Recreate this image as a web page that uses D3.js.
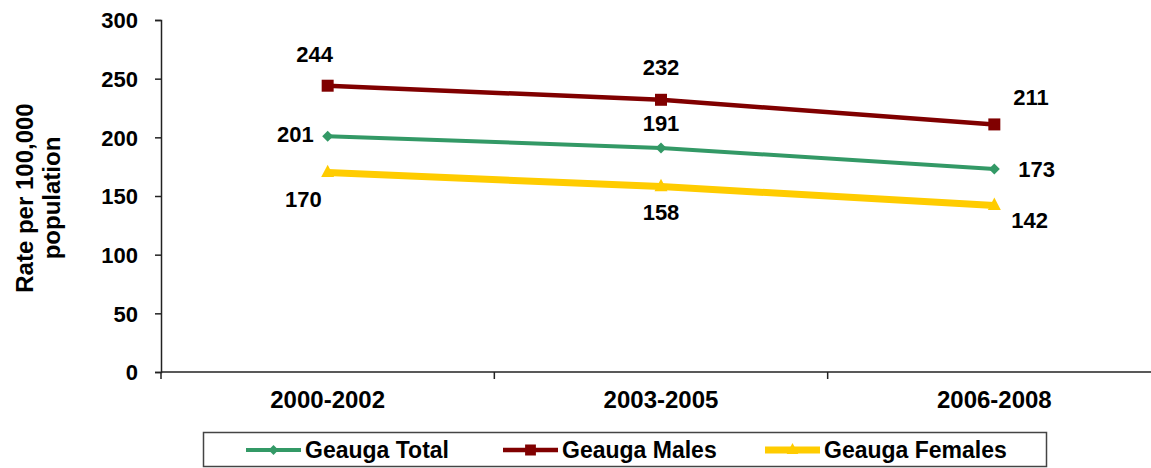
<!DOCTYPE html>
<html>
<head>
<meta charset="utf-8">
<script src="https://cdn.jsdelivr.net/npm/d3@7"></script>
<style>
  body { margin: 0; background: #fff; }
  svg text { font-family: "Liberation Sans", Arial, sans-serif; font-weight: bold; fill: #000; }
</style>
</head>
<body>
<svg id="chart" width="1151" height="468"></svg>
<script>
// data
var periods = ["2000-2002", "2003-2005", "2006-2008"];
var totalRates = [201, 191, 173];
var maleRates = [244, 232, 211];
var femaleRates = [170, 158, 142];
var yTicks = [0, 50, 100, 150, 200, 250, 300];

var series = [
  {name: "Geauga Total", values: totalRates, color: "#339966", width: 4, marker: "diamond"},
  {name: "Geauga Males", values: maleRates, color: "#800000", width: 4.5, marker: "square"},
  {name: "Geauga Females", values: femaleRates, color: "#ffcc00", width: 7, marker: "triangle"}
];

// where each value label sits relative to its point (dx, dy to baseline, anchor)
var labelPlace = {
  "Geauga Total":   [[-14, 6, "end"], [0, -17, "middle"], [24, 8, "start"]],
  "Geauga Males":   [[-13, -24, "middle"], [0, -25, "middle"], [19, -19, "start"]],
  "Geauga Females": [[-6, 34, "end"], [0, 33, "middle"], [17, 23, "start"]]
};

var svg = d3.select("#chart");
var plotLeft = 161, plotRight = 1161, plotTop = 20, plotBottom = 372;

var x = d3.scalePoint().domain(periods).range([plotLeft, plotRight]).padding(0.5);
var y = d3.scaleLinear().domain([0, 300]).range([plotBottom, plotTop]);
var step = x.step();

// y axis
var yAxis = svg.append("g").attr("transform", "translate(" + plotLeft + ",0)")
  .call(d3.axisLeft(y).tickValues(yTicks).tickSize(6).tickPadding(17));
yAxis.select(".domain").attr("stroke", "#222").attr("stroke-width", 1.5);
yAxis.selectAll(".tick line").attr("stroke", "#222").attr("stroke-width", 1.5);
yAxis.selectAll(".tick text").attr("font-size", 22).attr("dy", "0.36em");

// x axis
var xAxis = svg.append("g").attr("transform", "translate(0," + plotBottom + ")");
xAxis.append("line").attr("x1", plotLeft).attr("x2", plotRight)
  .attr("stroke", "#222").attr("stroke-width", 1.5);
d3.range(periods.length + 1).forEach(function(i) {
  var xx = plotLeft + i * step;
  xAxis.append("line").attr("x1", xx).attr("x2", xx).attr("y1", 0).attr("y2", 7)
    .attr("stroke", "#222").attr("stroke-width", 1.5);
});
xAxis.selectAll(".cat").data(periods).enter().append("text")
  .attr("class", "cat")
  .attr("x", d => x(d))
  .attr("y", 36)
  .attr("text-anchor", "middle")
  .attr("font-size", 24)
  .text(d => d);

// axis title
var title = svg.append("text")
  .attr("transform", "translate(33,198) rotate(-90)")
  .attr("text-anchor", "middle")
  .attr("font-size", 24);
title.append("tspan").attr("x", 0).attr("dy", 0).text("Rate per 100,000");
title.append("tspan").attr("x", 0).attr("dy", 27).text("population");

var line = d3.line().x((d, i) => x(periods[i])).y(d => y(d));

function markerPath(type, cx, cy, s) {
  if (type === "diamond") {
    return "M" + cx + "," + (cy - s) + "L" + (cx + s) + "," + cy + "L" + cx + "," + (cy + s) + "L" + (cx - s) + "," + cy + "Z";
  }
  if (type === "square") {
    return "M" + (cx - s) + "," + (cy - s) + "h" + 2 * s + "v" + 2 * s + "h" + (-2 * s) + "Z";
  }
  return "M" + cx + "," + (cy - s * 1.2) + "L" + (cx + s) + "," + (cy + s * 0.7) + "L" + (cx - s) + "," + (cy + s * 0.7) + "Z";
}
var markerSize = {diamond: 5.5, square: 6, triangle: 6.5};

// draw green first, then yellow, then red on top
[0, 2, 1].forEach(function(k) {
  var s = series[k];
  svg.append("path")
    .attr("d", line(s.values))
    .attr("fill", "none")
    .attr("stroke", s.color)
    .attr("stroke-width", s.width);
  s.values.forEach(function(v, i) {
    svg.append("path")
      .attr("d", markerPath(s.marker, x(periods[i]), y(v), markerSize[s.marker]))
      .attr("fill", s.color);
  });
});

// value labels
series.forEach(function(s) {
  s.values.forEach(function(v, i) {
    var p = labelPlace[s.name][i];
    svg.append("text")
      .attr("x", x(periods[i]) + p[0])
      .attr("y", y(v) + p[1])
      .attr("text-anchor", p[2])
      .attr("font-size", 22)
      .text(v);
  });
});

// legend
var legend = svg.append("g");
legend.append("rect")
  .attr("x", 203.5).attr("y", 432.5).attr("width", 843).attr("height", 34)
  .attr("fill", "#fff").attr("stroke", "#444").attr("stroke-width", 1.5);
var legendX = [246, 503, 765];
series.forEach(function(s, k) {
  var g = legend.append("g").attr("transform", "translate(" + legendX[k] + ",450)");
  g.append("line").attr("x1", 0).attr("x2", 55)
    .attr("stroke", s.color).attr("stroke-width", s.width);
  g.append("path").attr("d", markerPath(s.marker, 27.5, 0, markerSize[s.marker] * 0.9))
    .attr("fill", s.color);
  g.append("text").attr("x", 59).attr("y", 8).attr("font-size", 23).text(s.name);
});
</script>
</body>
</html>
